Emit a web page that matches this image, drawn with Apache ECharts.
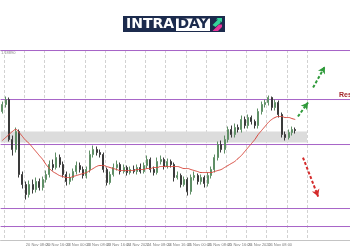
<!DOCTYPE html>
<html><head><meta charset="utf-8">
<script src="https://cdn.jsdelivr.net/npm/echarts@6/dist/echarts.min.js"></script>
<style>html,body{margin:0;padding:0;background:#fff}#c{width:350px;height:250px}</style>
</head><body><div id="c"></div>
<script>
// ---- data ----
const opens = [1.1828,1.1835,1.1840,1.1800,1.1790,1.1808,1.1765,1.1755,1.1745,1.1755,
1.1750,1.1758,1.1752,1.1760,1.1765,1.1775,1.1772,1.1782,1.1775,1.1765,
1.1758,1.1762,1.1768,1.1774,1.1770,1.1764,1.1770,1.1785,1.1790,1.1787,
1.1785,1.1770,1.1757,1.1765,1.1772,1.1775,1.1768,1.1772,1.1767,1.1770,
1.1768,1.1772,1.1768,1.1774,1.1780,1.1770,1.1767,1.1778,1.1780,1.1773,
1.1778,1.1775,1.1762,1.1764,1.1755,1.1760,1.1748,1.1762,1.1764,1.1758,
1.1762,1.1756,1.1764,1.1770,1.1782,1.1795,1.1790,1.1800,1.1810,1.1805,
1.1812,1.1810,1.1820,1.1814,1.1822,1.1818,1.1814,1.1828,1.1835,1.1837,
1.1842,1.1832,1.1837,1.1825,1.1805,1.1802,1.1807,1.1810];
const closes = [1.1835,1.1840,1.1800,1.1790,1.1808,1.1765,1.1755,1.1745,1.1755,1.1750,
1.1758,1.1752,1.1760,1.1765,1.1775,1.1772,1.1782,1.1775,1.1765,1.1758,
1.1762,1.1768,1.1774,1.1770,1.1764,1.1770,1.1785,1.1790,1.1787,1.1785,
1.1770,1.1757,1.1765,1.1772,1.1775,1.1768,1.1772,1.1767,1.1770,1.1768,
1.1772,1.1768,1.1774,1.1780,1.1770,1.1767,1.1778,1.1780,1.1773,1.1778,
1.1775,1.1762,1.1764,1.1755,1.1760,1.1748,1.1762,1.1764,1.1758,1.1762,
1.1756,1.1764,1.1770,1.1782,1.1795,1.1790,1.1800,1.1810,1.1805,1.1812,
1.1810,1.1820,1.1814,1.1822,1.1818,1.1814,1.1828,1.1835,1.1837,1.1842,
1.1832,1.1837,1.1825,1.1805,1.1802,1.1807,1.1810,1.1809];
const lows = [1.1826,1.1832,1.1798,1.1784,1.1787,1.1762,1.1751,1.1740,1.1742,1.1746,
1.1747,1.1749,1.1749,1.1757,1.1762,1.1769,1.1770,1.1772,1.1762,1.1754,
1.1755,1.1759,1.1765,1.1767,1.1761,1.1761,1.1767,1.1782,1.1784,1.1782,
1.1767,1.1754,1.1755,1.1763,1.1769,1.1765,1.1766,1.1764,1.1765,1.1766,
1.1765,1.1766,1.1766,1.1771,1.1767,1.1764,1.1765,1.1775,1.1770,1.1771,
1.1772,1.1758,1.1760,1.1752,1.1753,1.1744,1.1745,1.1759,1.1755,1.1755,
1.1752,1.1753,1.1761,1.1767,1.1779,1.1787,1.1786,1.1797,1.1802,1.1802,
1.1807,1.1807,1.1811,1.1811,1.1815,1.1811,1.1811,1.1825,1.1832,1.1834,
1.1829,1.1829,1.1822,1.1802,1.1799,1.1800,1.1804,1.1806];
const highs = [1.1838,1.1843,1.1842,1.1804,1.1812,1.1810,1.1768,1.1758,1.1759,1.1760,
1.1762,1.1761,1.1763,1.1769,1.1779,1.1780,1.1787,1.1785,1.1778,1.1768,
1.1766,1.1771,1.1778,1.1777,1.1773,1.1773,1.1789,1.1794,1.1793,1.1790,
1.1787,1.1772,1.1768,1.1776,1.1779,1.1777,1.1775,1.1774,1.1773,1.1774,
1.1775,1.1776,1.1777,1.1784,1.1782,1.1773,1.1782,1.1784,1.1782,1.1781,
1.1780,1.1777,1.1768,1.1766,1.1763,1.1762,1.1765,1.1768,1.1766,1.1765,
1.1764,1.1767,1.1773,1.1785,1.1798,1.1799,1.1804,1.1813,1.1814,1.1816,
1.1815,1.1824,1.1823,1.1825,1.1824,1.1820,1.1831,1.1838,1.1840,1.1844,
1.1843,1.1840,1.1839,1.1827,1.1808,1.1810,1.1813,1.1812];
const maValues = [1.1799,1.1802,1.1805,1.1808,1.1810,1.1807,1.1803,1.1799,1.1796,1.1792,
1.1788,1.1784,1.1780,1.1775,1.1771,1.1768,1.1766,1.1764,1.1763,1.1762,
1.1762,1.1763,1.1764,1.1765,1.1766,1.1767,1.1769,1.1771,1.1773,1.1774,
1.1774,1.1773,1.1772,1.1771,1.1770,1.1769,1.1769,1.1769,1.1769,1.1769,
1.1770,1.1770,1.1770,1.1771,1.1771,1.1772,1.1772,1.1773,1.1773,1.1773,
1.1773,1.1773,1.1773,1.1772,1.1771,1.1771,1.1770,1.1769,1.1768,1.1767,
1.1767,1.1767,1.1767,1.1768,1.1769,1.1770,1.1772,1.1774,1.1776,1.1778,
1.1781,1.1784,1.1788,1.1792,1.1796,1.1800,1.1805,1.1809,1.1813,1.1817,
1.1820,1.1822,1.1823,1.1823,1.1822,1.1822,1.1821,1.1820];
const tickLabels = ["20 Nov 2020","20 Nov 08:00","20 Nov 16:00","23 Nov 00:00","23 Nov 08:00",
"23 Nov 16:00","24 Nov 2020","24 Nov 08:00","24 Nov 16:00","25 Nov 00:00",
"25 Nov 08:00","25 Nov 16:00","26 Nov 2020","26 Nov 08:00","26 Nov 16:00"];
const levelLines = [1.1889, 1.1840, 1.1795, 1.1731, 1.1713];
const zoneBand = [1.1808, 1.1797];
const upArrows = [[[92.8,1.1852],[96.3,1.1873]], [[88.3,1.1823],[91.3,1.1837]]];
const downArrows = [[[89.8,1.1782],[94.3,1.1743]]];
const SLOTS = 104;

// ---- build ----
const categories = Array.from({length: SLOTS}, (_, i) => String(i));
const candleData = opens.map((o, i) => [o, closes[i], lows[i], highs[i]]);
const tickEvery = 6, tickStart = 1;
const isGridTick = i => i % tickEvery === tickStart && i <= 91;
const isLabelTick = i => i % tickEvery === tickStart && (i - tickStart) / tickEvery < tickLabels.length;

const chart = echarts.init(document.getElementById('c'), null, {renderer: 'canvas'});
const purple = '#a764c8';
const levelSeries = levelLines.map(v => ({
  type: 'line', xAxisIndex: 1, yAxisIndex: 0, data: [[0, v], [SLOTS, v]],
  showSymbol: false, symbol: 'none', silent: true, z: 2,
  lineStyle: {color: purple, width: 1, type: 'solid'}, itemStyle: {color: purple}
}));
chart.setOption({
  animation: false,
  backgroundColor: '#ffffff',
  grid: {left: 0.6, top: 50, width: 350.2, height: 190, containLabel: false, outerBoundsMode: 'none'},
  xAxis: [{
    type: 'category', data: categories, boundaryGap: true, position: 'bottom',
    axisLine: {show: true, lineStyle: {color: '#c4c4c4', width: 1}},
    axisTick: {show: false},
    splitLine: {show: true, interval: (i) => isGridTick(i), lineStyle: {color: '#d2d2d2', type: [3, 2], width: 1}},
    axisLabel: {
      show: true, interval: (i) => isLabelTick(i), fontSize: 4, color: '#808080', margin: 3, align: 'left',
      fontFamily: 'Liberation Sans',
      formatter: (v, i) => isLabelTick(i) ? tickLabels[(i - tickStart) / tickEvery] : ''
    }
  }, {
    type: 'value', min: 0, max: SLOTS, position: 'top', gridIndex: 0,
    axisLine: {show: true, lineStyle: {color: '#c4c4c4', width: 1}},
    axisTick: {show: false}, axisLabel: {show: false}, splitLine: {show: false}
  }],
  yAxis: [{type: 'value', min: 1.169952, max: 1.188952, show: false, splitLine: {show: false}}],
  series: [{
    type: 'candlestick', data: candleData, barWidth: 1.5,
    itemStyle: {color: '#5f8f66', color0: '#3a3a3a', borderColor: '#5f8f66', borderColor0: '#3a3a3a', borderWidth: 1},
    z: 3
  }, {
    type: 'line', data: maValues, smooth: true, showSymbol: false,
    lineStyle: {color: '#d8473c', width: 1}, z: 4
  }, {
    type: 'line', xAxisIndex: 1, yAxisIndex: 0, data: [], z: 1,
    markArea: {silent: true, precision: 5, itemStyle: {color: '#dcdcdc'},
      data: [[{coord: [0, zoneBand[0]]}, {coord: [91, zoneBand[1]]}]]}
  }, {
    type: 'line', xAxisIndex: 1, yAxisIndex: 0, data: [], z: 5,
    markLine: {silent: true, precision: 5, symbol: ['none', 'arrow'], symbolSize: [6, 7], label: {show: false},
      lineStyle: {color: '#2f9a3a', width: 2, type: [3, 2]},
      data: upArrows.map(a => [{coord: a[0]}, {coord: a[1]}])}
  }, {
    type: 'line', xAxisIndex: 1, yAxisIndex: 0, data: [], z: 5,
    markLine: {silent: true, precision: 5, symbol: ['none', 'arrow'], symbolSize: [6, 7], label: {show: false},
      lineStyle: {color: '#d42a2a', width: 2, type: [3, 2]},
      data: downArrows.map(a => [{coord: a[0]}, {coord: a[1]}])}
  }].concat(levelSeries),
  graphic: [
    {type: 'rect', shape: {x: 123, y: 16, width: 102, height: 16}, style: {fill: '#1c2b4d'}},
    {type: 'text', x: 126, y: 24.5, style: {text: 'INTRA', fill: '#ffffff', font: 'bold 14px "DejaVu Sans"', textVerticalAlign: 'middle'}},
    {type: 'rect', shape: {x: 176, y: 18.5, width: 34, height: 12.5}, style: {fill: '#ffffff'}},
    {type: 'text', x: 177.5, y: 24.8, style: {text: 'DAY', fill: '#1c2b4d', font: 'bold 14px "DejaVu Sans"', textVerticalAlign: 'middle'}},
    {type: 'polygon', shape: {points: [[212.5,25],[218,19.5],[216,19.5],[217.5,18],[222,18],[222,22.5],[220.5,21],[220.5,23],[215.5,27]]}, style: {fill: '#34d39a'}},
    {type: 'polygon', shape: {points: [[212.5,31],[219,24.5],[222,24.5],[222,27],[218,31]]}, style: {fill: '#e8359a'}},
    {type: 'text', x: 1, y: 52.5, style: {text: '1.18890', fill: '#8a8a8a', font: '4px "Liberation Sans"', textVerticalAlign: 'middle'}},
    {type: 'text', x: 339, y: 95.5, style: {text: 'Resistance', fill: '#a3262a', font: 'bold 7px "Liberation Sans"', textVerticalAlign: 'middle'}}
  ]
});
</script></body></html>
